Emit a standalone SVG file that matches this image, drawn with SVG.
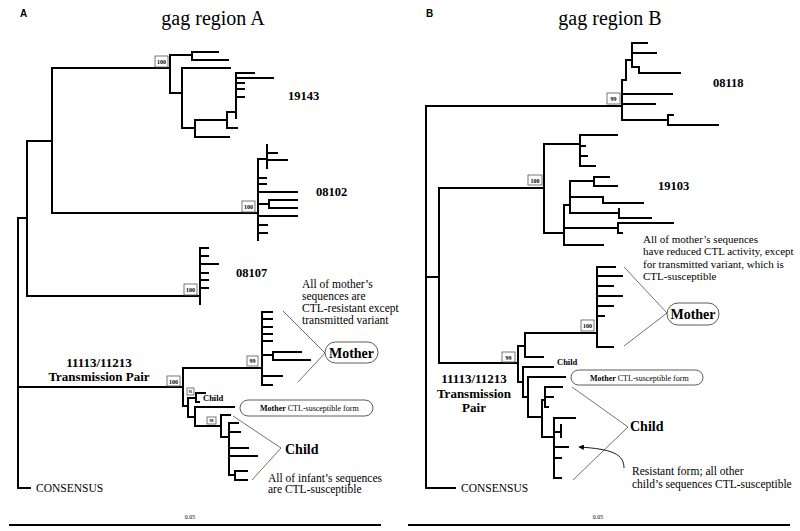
<svg xmlns="http://www.w3.org/2000/svg" width="800" height="531" viewBox="0 0 800 531">
<defs>
<style>
.t{fill:none;stroke:#000;stroke-width:2;stroke-linecap:square}
.a{fill:none;stroke:#333;stroke-width:0.7}
.s{font-family:"Liberation Serif",serif;fill:#000}
.h{font-family:"Liberation Sans",sans-serif;font-weight:bold;font-size:10px}
.ttl{font-size:20px}
.lb{font-size:12.5px;font-weight:bold}
.an{font-size:11.5px}
.an2{font-size:11px}
.bx{fill:#fff;stroke:#555;stroke-width:0.8}
.bt{font-size:6px;font-weight:bold;text-anchor:middle}
.pill{fill:#fff;stroke:#333;stroke-width:0.8}
.bar{stroke:#000;stroke-width:2}
</style>
<marker id="ah" viewBox="0 0 10 10" refX="9" refY="5" markerWidth="7" markerHeight="6" orient="auto">
<path d="M0,0 L10,5 L0,10 z" fill="#000"/>
</marker>
</defs>
<rect width="800" height="531" fill="#fff"/>

<g id="connectors">
<!-- Panel A -->
<path class="t" d="M18,218 V488 H30 M18,218 H27 M27,141 V296 M27,296 H200 M27,141 H52 M52,68 V213 M52,68 H170 M52,213 H258 M18,387 H183"/>
<path class="t" d="M170,55 V93 M170,55 H192 M192,52 V60 M192,52 H218 M192,60 H228 M170,93 H182 M182,68 V128 M182,68 H230 M182,128 H195 M195,120 V137 M195,137 H229 M195,120 H227 M227,112 V128 M227,128 H237 M227,112 H236 M236,73 V118 M236,73 H254 M236,78 H273 M236,83 H244 M236,89 H244 M236,97 H244"/>
<path class="t" d="M258,159 V240 M258,159 H267 M267,145 V168 M267,153 H277 M267,160 H287 M258,178 H266 M258,184 H266 M258,192 H297 M258,204 H269 M269,200 V208 M269,200 H297 M269,208 H297 M258,216 H297 M258,225 H267 M258,233 H267"/>
<path class="t" d="M200,248 V304 M200,248 H208 M200,256 H208 M200,264 H218 M200,273 H208 M200,280 H208 M200,288 H208"/>
<path class="t" d="M183,368 V406 M183,368 H262 M262,312 V385 M262,312 H272 M262,319 H272 M262,327 H272 M262,334 H272 M262,341 H272 M262,355 H273 M273,352 V360 M273,352 H301 M273,360 H310 M262,376 H282 M262,385 H272"/>
<path class="t" d="M183,406 H188 M188,398 V417 M188,398 H196 M196,393 V402 M196,393 H205 M196,402 H199 M188,417 H195 M195,407 V426 M195,407 H234 M195,426 H221 M221,415 V437 M221,415 H230 M221,437 H229 M229,423 V475 M229,423 H238 M229,432 H240 M229,448 H248 M229,456 H257 M229,475 H235 M235,471 V480 M235,471 H247 M235,480 H247"/>
<!-- Panel B -->
<path class="t" d="M426,106 V488 H455 M426,106 H622 M426,277 H439 M439,188 V363 M439,188 H544 M439,363 H518"/>
<path class="t" d="M622,80 V120 M622,80 H626 V60 H632 M632,43 V67 M632,43 H647 M632,53 H656 M632,67 H639 M639,67 V73 M639,73 H680 M622,94 H672 M622,104 H655 M622,120 H668 M668,115 V125 M668,115 H673 M668,125 H718"/>
<path class="t" d="M544,144 V233 M544,144 H580 M580,135 V166 M580,135 H617 M580,146 H585 M580,156 H587 M580,166 H595 M544,233 H564 M564,205 V245 M564,245 H603 M564,228 H618 M618,223 V233 M618,223 H673 M618,233 H622 M564,205 H570 M570,181 V213 M570,181 H594 M594,177 V186 M594,177 H609 M594,186 H617 M570,197 H603 M603,197 V203 M603,203 H643 M570,213 H619 M619,209 V218 M619,218 H651"/>
<path class="t" d="M518,346 V382 M518,346 H525 M525,333 V357 M525,333 H597 M525,357 H543 M597,267 V347 M597,267 H615 M597,276 H622 M597,286 H613 M597,296 H622 M597,306 H613 M597,316 H604 M597,347 H613"/>
<path class="t" d="M518,382 H523 M523,367 V397 M523,367 H553 M523,397 H528 M528,377 V417 M528,377 H565 M528,417 H542 M542,400 V437 M542,400 H545 M545,387 V407 M545,387 H562 M545,397 H553 M545,407 H548 M542,437 H554 M554,418 V478 M554,418 H575 M554,432 H561 M561,425 V437 M554,447 H568 M554,458 H561 M554,478 H561"/>
<!-- annotation lines -->
<path class="a" d="M283,311 L325,353 L298,382"/>
<path class="a" d="M233,416 L281,448 L252,480"/>
<path class="a" d="M624,267 L667,313 L624,346"/>
<path class="a" d="M572,387 L628,427 L573,480"/>
<path fill="none" stroke="#000" stroke-width="0.9" d="M624,468 C624,454 612,449 579,447" marker-end="url(#ah)"/>
<!-- scale bars -->
<line class="bar" x1="9" y1="525" x2="381" y2="525"/>
<line class="bar" x1="408" y1="525" x2="790" y2="525"/>
</g>

<g id="panelA-title">
<text class="h" x="20" y="17">A</text>
<text class="s ttl" x="213" y="25" text-anchor="middle">gag region A</text>
</g>
<g id="A-19143"><rect class="bx" x="155" y="56" width="13" height="11"/><text class="s bt" x="161.5" y="64">100</text><text class="s lb" x="288" y="100">19143</text></g>
<g id="A-08102"><rect class="bx" x="242" y="201" width="13" height="11"/><text class="s bt" x="248.5" y="209">100</text><text class="s lb" x="316" y="196">08102</text></g>
<g id="A-08107"><rect class="bx" x="184" y="284" width="13" height="11"/><text class="s bt" x="190.5" y="292">100</text><text class="s lb" x="236" y="277">08107</text></g>
<g id="A-pair">
<rect class="bx" x="167" y="376" width="13" height="10"/><text class="s bt" x="173.5" y="383.5">100</text>
<text class="s" font-size="13" font-weight="bold" x="99" y="367" text-anchor="middle">11113/11213</text>
<text class="s" font-size="13" font-weight="bold" x="99" y="381" text-anchor="middle">Transmission Pair</text>
</g>
<g id="A-mother">
<rect class="bx" x="247" y="356" width="11" height="10"/><text class="s bt" x="252.5" y="363">99</text>
<text class="s an" x="302" y="288">All of mother’s</text>
<text class="s an" x="302" y="300">sequences are</text>
<text class="s an" x="302" y="312">CTL-resistant except</text>
<text class="s an" x="302" y="324">transmitted variant</text>
<rect class="pill" x="325" y="342" width="53" height="21" rx="10.5"/>
<text class="s" font-size="14" font-weight="bold" x="351.5" y="358" text-anchor="middle">Mother</text>
</g>
<g id="A-child">
<rect class="bx" x="187" y="388" width="7" height="7"/><text class="s" font-size="3.5" font-weight="bold" text-anchor="middle" x="190.5" y="393">91</text>
<text class="s" font-size="8.5" font-weight="bold" x="203" y="401">Child</text>
<rect class="pill" x="240" y="400" width="133" height="16" rx="8"/>
<text class="s" font-size="8" x="260" y="411"><tspan font-weight="bold">Mother</tspan> CTL-susceptible form</text>
<rect class="bx" x="207" y="417" width="9" height="7"/><text class="s" font-size="4" font-weight="bold" text-anchor="middle" x="211.5" y="422">98</text>
<text class="s" font-size="14" font-weight="bold" x="285" y="454">Child</text>
<text class="s an" x="268" y="482">All of infant’s sequences</text>
<text class="s an" x="268" y="493">are CTL-susceptible</text>
</g>
<g id="A-consensus"><text class="s an" x="36" y="492">CONSENSUS</text></g>
<g id="A-scale"><text class="s" font-size="6" x="190" y="519" text-anchor="middle">0.05</text></g>

<g id="panelB-title">
<text class="h" x="426" y="17">B</text>
<text class="s ttl" x="610" y="25" text-anchor="middle">gag region B</text>
</g>
<g id="B-08118"><rect class="bx" x="607" y="93" width="13" height="11"/><text class="s bt" x="613.5" y="101">99</text><text class="s lb" x="713" y="87">08118</text></g>
<g id="B-19103"><rect class="bx" x="528" y="175" width="14" height="10"/><text class="s bt" x="535" y="182.5">100</text><text class="s lb" x="658" y="190">19103</text></g>
<g id="B-mother">
<text class="s an2" x="643" y="243">All of mother’s sequences</text>
<text class="s an2" x="643" y="255">have reduced CTL activity, except</text>
<text class="s an2" x="643" y="268">for transmitted variant, which is</text>
<text class="s an2" x="643" y="280">CTL-susceptible</text>
<rect class="bx" x="581" y="320" width="13" height="11"/><text class="s bt" x="587.5" y="328">100</text>
<rect class="pill" x="667" y="303" width="52" height="22" rx="11"/>
<text class="s" font-size="14" font-weight="bold" x="693" y="319" text-anchor="middle">Mother</text>
</g>
<g id="B-pair">
<rect class="bx" x="502" y="352" width="13" height="10"/><text class="s bt" x="508.5" y="359.5">99</text>
<text class="s" font-size="13" font-weight="bold" x="474" y="383" text-anchor="middle">11113/11213</text>
<text class="s" font-size="13" font-weight="bold" x="474" y="398" text-anchor="middle">Transmission</text>
<text class="s" font-size="13" font-weight="bold" x="474" y="412" text-anchor="middle">Pair</text>
</g>
<g id="B-child">
<text class="s" font-size="8.5" font-weight="bold" x="557" y="365">Child</text>
<rect class="pill" x="571" y="370" width="132" height="15" rx="7.5"/>
<text class="s" font-size="8" x="590" y="381"><tspan font-weight="bold">Mother</tspan> CTL-susceptible form</text>
<text class="s" font-size="14" font-weight="bold" x="630" y="431">Child</text>
<text class="s an" x="632" y="475">Resistant form; all other</text>
<text class="s an" x="632" y="488">child’s sequences CTL-susceptible</text>
</g>
<g id="B-consensus"><text class="s an" x="461" y="492">CONSENSUS</text></g>
<g id="B-scale"><text class="s" font-size="6" x="598" y="519" text-anchor="middle">0.05</text></g>
</svg>
